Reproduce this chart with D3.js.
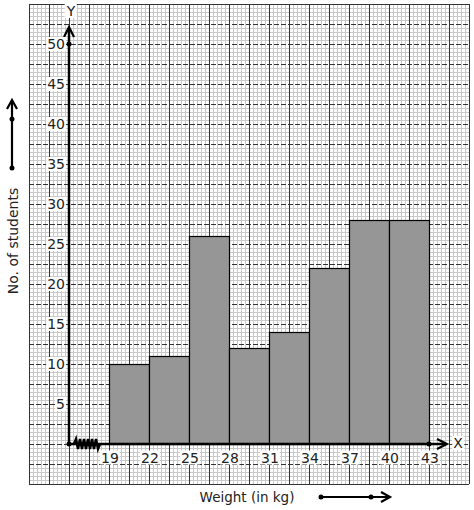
<!DOCTYPE html>
<html><head><meta charset="utf-8">
<script src="https://cdn.jsdelivr.net/npm/d3@7"></script>
<style>body{margin:0;background:#fff}svg{display:block}text{font-family:"DejaVu Sans",sans-serif}</style>
</head><body>
<script>
const binStarts = [19, 22, 25, 28, 31, 34, 37, 40];
const binWidth = 3;
const students = [10, 11, 26, 12, 14, 22, 28, 28];
const xTicks = [19, 22, 25, 28, 31, 34, 37, 40, 43];
const yTicks = [5, 10, 15, 20, 25, 30, 35, 40, 45, 50];

const W = 474, H = 510;
const svg = d3.select("body").append("svg").attr("width", W).attr("height", H);

const x = d3.scaleLinear().domain([16, 43]).range([69, 429]);
const y = d3.scaleLinear().domain([0, 50]).range([444, 44]);

// graph paper
const gx0 = 29, gx1 = 469, gy0 = 4, gy1 = 484;
const grid = svg.append("g").attr("shape-rendering", "crispEdges");
for (let v = gx0; v <= gx1; v += 4) {
  if ((v - gx0) % 20 === 0) continue;
  grid.append("line").attr("x1", v + 0.5).attr("x2", v + 0.5).attr("y1", gy0).attr("y2", gy1).attr("stroke", "#cacaca").attr("stroke-width", 1);
}
for (let v = gy0; v <= gy1; v += 4) {
  if ((v - gy0) % 20 === 0) continue;
  grid.append("line").attr("y1", v + 0.5).attr("y2", v + 0.5).attr("x1", gx0).attr("x2", gx1).attr("stroke", "#cacaca").attr("stroke-width", 1);
}
for (let v = gx0; v <= gx1; v += 20) {
  grid.append("line").attr("x1", v + 0.5).attr("x2", v + 0.5).attr("y1", gy0).attr("y2", gy1).attr("stroke", "#333").attr("stroke-width", 1);
}
for (let v = gy0; v <= gy1; v += 20) {
  grid.append("line").attr("y1", v + 0.5).attr("y2", v + 0.5).attr("x1", gx0).attr("x2", gx1).attr("stroke", "#333").attr("stroke-width", 1)
    .attr("stroke-dasharray", (v === gy0 || v === gy1) ? null : "5,2");
}

// bars
svg.append("g").selectAll("rect").data(binStarts).join("rect")
  .attr("x", d => x(d) + 0.5)
  .attr("y", (d, i) => y(students[i]) + 0.5)
  .attr("width", d => x(d + binWidth) - x(d))
  .attr("height", (d, i) => y(0) - y(students[i]))
  .attr("fill", "#969696").attr("stroke", "#000").attr("stroke-width", 1.2);

// axes
const ax = svg.append("g").attr("stroke", "#000").attr("fill", "none");
ax.append("line").attr("x1", x(16)).attr("x2", x(16)).attr("y1", y(0)).attr("y2", 28).attr("stroke-width", 2.5);
ax.append("path").attr("d", `M${x(16) - 5},${37} L${x(16)},${27} L${x(16) + 5},${37}`).attr("stroke-width", 2.2);
ax.append("line").attr("x1", x(16)).attr("x2", 446).attr("y1", y(0)).attr("y2", y(0)).attr("stroke-width", 2.5);
ax.append("path").attr("d", `M${437},${y(0) - 5} L${447},${y(0)} L${437},${y(0) + 5}`).attr("stroke-width", 2.2);
// zigzag break
let zz = `M74,${y(0)}`;
for (let i = 0; i < 6; i++) {
  const bx = 75 + i * 4;
  zz += ` L${bx + 1},${y(0) - 5} L${bx + 3},${y(0) + 5}`;
}
zz += ` L100,${y(0)}`;
ax.append("path").attr("d", zz).attr("stroke-width", 2.5);

// dots
const dots = [[x(16), y(50)], [x(16), y(0)], [x(43), y(0)]];
svg.append("g").selectAll("circle").data(dots).join("circle")
  .attr("cx", d => d[0]).attr("cy", d => d[1]).attr("r", 2.5).attr("fill", "#000");

// tick labels with white background
function label(tx, ty, str, anchor) {
  const t = svg.append("text").attr("x", tx).attr("y", ty).attr("text-anchor", anchor)
    .attr("dominant-baseline", "central").attr("font-size", 14).attr("fill", "#222").text(str);
  const b = t.node().getBBox();
  svg.insert("rect", () => t.node()).attr("x", b.x - 1).attr("y", b.y + 1).attr("width", b.width + 2).attr("height", b.height - 2).attr("fill", "#fff");
}
yTicks.forEach(v => label(x(16) - 4, y(v), String(v), "end"));
xTicks.forEach(v => label(x(v) + 1, y(0) + 13.5, String(v), "middle"));
label(x(16) + 2, 11, "Y", "middle");
label(458, y(0) - 1, "X", "middle");

// axis titles
svg.append("text").attr("x", 247).attr("y", 497).attr("text-anchor", "middle")
  .attr("dominant-baseline", "central").attr("font-size", 13.5).attr("fill", "#222").text("Weight (in kg)");
svg.append("text").attr("transform", "translate(13,241) rotate(-90)").attr("text-anchor", "middle")
  .attr("dominant-baseline", "central").attr("font-size", 14).attr("fill", "#222").text("No. of students");

// title arrows
const ta = svg.append("g").attr("stroke", "#000").attr("fill", "none").attr("stroke-width", 2.2);
ta.append("line").attr("x1", 321).attr("x2", 388).attr("y1", 497).attr("y2", 497);
ta.append("path").attr("d", "M381,492 L390,497 L381,502");
ta.append("line").attr("x1", 12).attr("x2", 12).attr("y1", 168).attr("y2", 102);
ta.append("path").attr("d", "M7,109 L12,100 L17,109");
svg.append("g").selectAll("circle").data([[321, 497], [371, 497], [12, 168], [12, 119]]).join("circle")
  .attr("cx", d => d[0]).attr("cy", d => d[1]).attr("r", 2.5).attr("fill", "#000");
</script>
</body></html>
